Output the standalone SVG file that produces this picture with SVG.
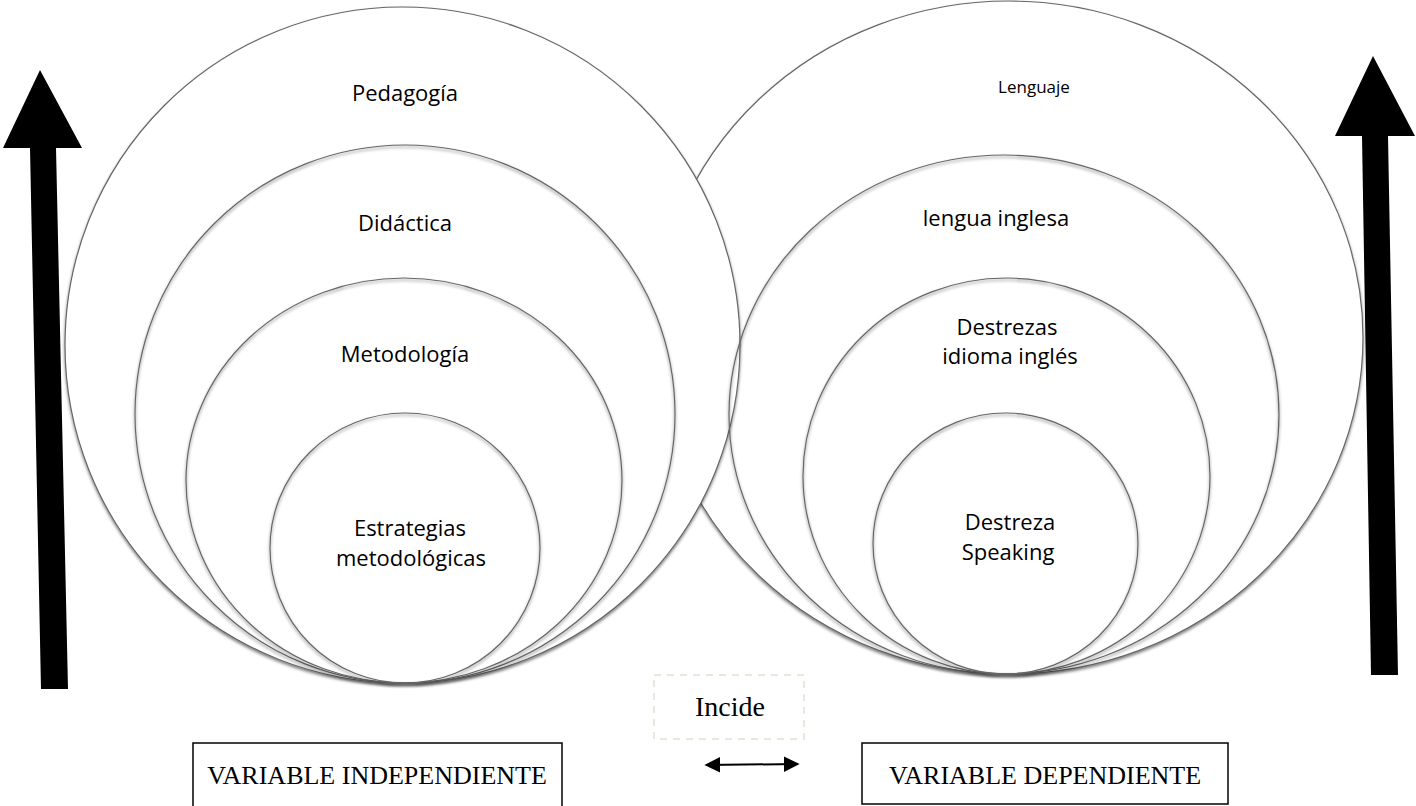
<svg xmlns="http://www.w3.org/2000/svg" width="1416" height="806" viewBox="0 0 1416 806">
  <defs>
    <filter id="sh" x="-10%" y="-10%" width="120%" height="120%">
      <feDropShadow dx="0" dy="2" stdDeviation="1.5" flood-color="#000" flood-opacity="0.5"/>
    </filter>
    <marker id="ah" viewBox="0 0 10 10" refX="9" refY="5" markerWidth="8" markerHeight="8" orient="auto-start-reverse" markerUnits="strokeWidth">
      <path d="M0,0 L10,5 L0,10 Z" fill="#000"/>
    </marker>
  </defs>
  <style>
    .c { stroke: #666; stroke-width: 1.2; filter: url(#sh); }
    .big { fill: #fff; }
    .in { fill: none; }
    .t { font-family: "Open Sans", "Liberation Sans", sans-serif; font-size: 22px; fill: #000; text-anchor: middle; }
    .s { font-family: "Liberation Serif", "DejaVu Serif", serif; font-size: 26px; fill: #000; text-anchor: middle; }
    .box { fill: #fff; stroke: #000; stroke-width: 1.5; }
    .arrow { fill: #000; }
  </style>
  <rect width="1416" height="806" fill="#fff"/>

  <g id="arrow-left"><polygon class="arrow" points="40,70 82,148 56,148 68,689 41,689 30,148 3,148"/></g>
  <g id="arrow-right"><polygon class="arrow" points="1373,56 1415,136 1388,136 1398,675 1371,675 1362,136 1335,136"/></g>

  <g id="lenguaje"><ellipse class="c big" cx="1009" cy="337.5" rx="354" ry="336.5"/>
    <text class="t" x="1034" y="93" style="font-size:17px">Lenguaje</text></g>
  <g id="pedagogia"><ellipse class="c big" cx="402.5" cy="345" rx="337.5" ry="338"/>
    <text class="t" x="405" y="101">Pedagogía</text></g>

  <g id="didactica"><ellipse class="c in" cx="405" cy="414" rx="270" ry="269"/>
    <text class="t" x="405" y="231">Didáctica</text></g>
  <g id="metodologia"><ellipse class="c in" cx="404" cy="480.5" rx="218" ry="202.5"/>
    <text class="t" x="405" y="362">Metodología</text></g>
  <g id="estrategias"><ellipse class="c in" cx="405" cy="548" rx="135" ry="135"/>
    <text class="t" x="410" y="536">Estrategias</text>
    <text class="t" x="411" y="566">metodológicas</text></g>

  <g id="lengua-inglesa"><ellipse class="c in" cx="1004" cy="414.5" rx="275" ry="259.5"/>
    <text class="t" x="996" y="226">lengua inglesa</text></g>
  <g id="destrezas"><ellipse class="c in" cx="1006.5" cy="476" rx="203.5" ry="198"/>
    <text class="t" x="1007" y="335">Destrezas</text>
    <text class="t" x="1010" y="364">idioma inglés</text></g>
  <g id="speaking"><ellipse class="c in" cx="1005.5" cy="543.5" rx="132.5" ry="130.5"/>
    <text class="t" x="1010" y="530">Destreza</text>
    <text class="t" x="1008" y="560">Speaking</text></g>

  <g id="incide">
    <rect x="654" y="675" width="150" height="64" fill="none" stroke="#ebe7dc" stroke-width="2" stroke-dasharray="7,6"/>
    <text class="s" x="730" y="716" style="font-size:28px">Incide</text>
  </g>
  <g id="var-independiente"><rect class="box" x="193" y="743" width="369" height="70"/>
    <text class="s" x="377" y="784">VARIABLE INDEPENDIENTE</text></g>
  <g id="var-dependiente"><rect class="box" x="862" y="743" width="366" height="61"/>
    <text class="s" x="1045" y="784">VARIABLE DEPENDIENTE</text></g>

  <g id="connectors">
    <line x1="706" y1="765" x2="798" y2="764" stroke="#000" stroke-width="2" marker-start="url(#ah)" marker-end="url(#ah)"/>
  </g>
</svg>
